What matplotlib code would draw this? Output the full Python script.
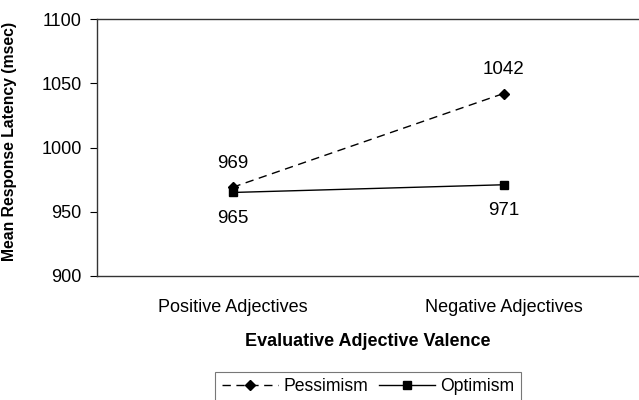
import matplotlib
matplotlib.use("Agg")
import matplotlib.pyplot as plt

categories = ["Positive Adjectives", "Negative Adjectives"]
pessimism = [969, 1042]
optimism = [965, 971]
yticks = [900, 950, 1000, 1050, 1100]

plt.rcParams['font.family'] = ['Liberation Sans', 'DejaVu Sans']

fig = plt.figure(figsize=(6.39, 4.0), dpi=100)
ax = fig.add_axes([97/639, 124/400, 1 - 97/639, (276-19)/400])

x = list(range(len(categories)))
ax.plot(x, pessimism, color='black', linestyle=(0, (6, 4)), linewidth=1.0,
        marker='D', markersize=5, label='Pessimism')
ax.plot(x, optimism, color='black', linestyle='-', linewidth=1.0,
        marker='s', markersize=5.5, label='Optimism')

for xi, v in zip(x, pessimism):
    ax.annotate(str(v), (xi, v), xytext=(0, 24), textcoords='offset pixels',
                ha='center', va='center', fontsize=13.5)
for xi, v in zip(x, optimism):
    ax.annotate(str(v), (xi, v), xytext=(0, -26), textcoords='offset pixels',
                ha='center', va='center', fontsize=13.5)

ax.set_xlim(-0.5, 1.5)
ax.set_ylim(900, 1100)
ax.set_yticks(yticks)
ax.set_xticks(x)
ax.set_xticklabels(categories, fontsize=13)
ax.tick_params(axis='y', labelsize=13, direction='out', length=5, width=0.8, pad=6)
ax.tick_params(axis='x', length=0, pad=16.5)
for s in ['top', 'bottom', 'left']:
    ax.spines[s].set_linewidth(1.0)
    ax.spines[s].set_color('#333333')
ax.spines['right'].set_visible(False)

ax.set_ylabel('Mean Response Latency (msec)', fontsize=11.3, fontweight='bold')
ax.yaxis.set_label_coords((17 - 97) / 542, (276 - 141) / 257)
ax.set_xlabel('Evaluative Adjective Valence', fontsize=13, fontweight='bold', labelpad=12)

leg = fig.legend(loc='upper center', bbox_to_anchor=(368/639, 1 - 372/400), ncol=2,
                 frameon=True, fancybox=False, edgecolor='#555555', fontsize=12.7,
                 handlelength=3.2, columnspacing=0.6, handletextpad=0.3,
                 borderpad=0.35, borderaxespad=0)
leg.get_frame().set_linewidth(0.8)

fig.savefig('out.png', dpi=100)
